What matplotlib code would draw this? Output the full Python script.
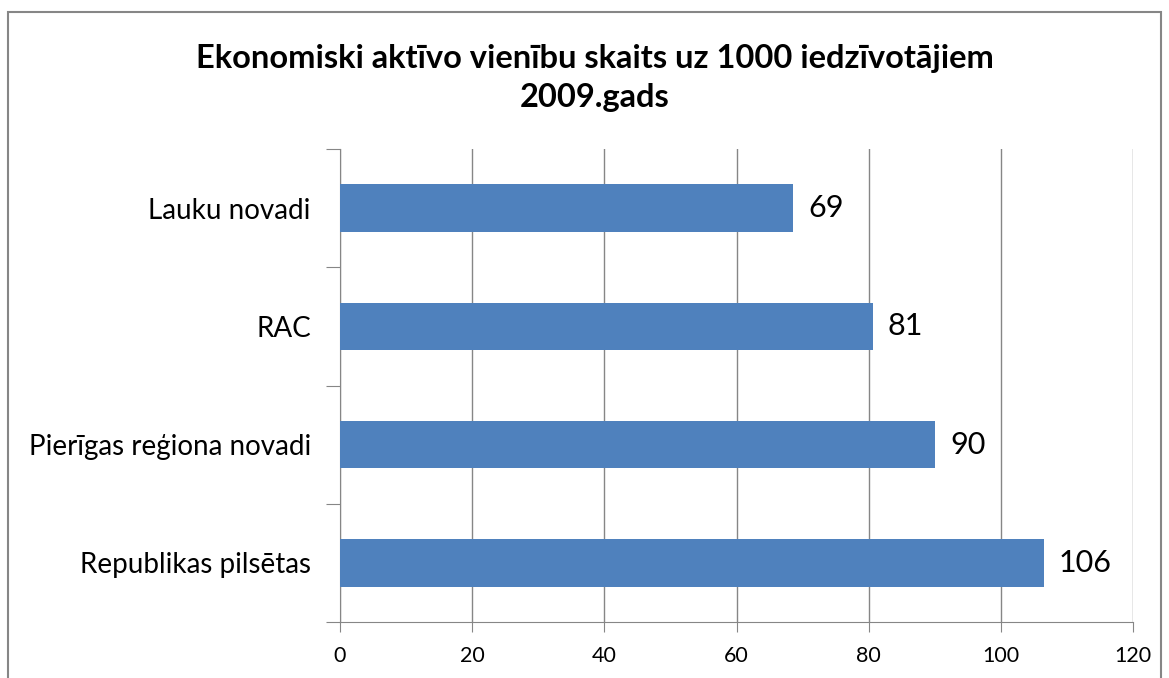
import matplotlib.pyplot as plt
import numpy as np

categories = ["Republikas pilsētas", "Pierīgas reģiona novadi", "RAC", "Lauku novadi"]
values = [106.5, 90.0, 80.6, 68.6]
xticks = [0, 20, 40, 60, 80, 100, 120]

plt.rcParams["font.family"] = ["Lato", "DejaVu Sans"]

fig = plt.figure(figsize=(11.69, 6.78), dpi=100)
W, H = 1169, 678
ax = fig.add_axes([340 / W, 1 - 622 / H, (1133 - 340) / W, (622 - 149) / H])

grid_col = "#868686"
y = np.arange(len(categories))
ax.barh(y, values, height=0.4, color="#4F81BD", zorder=3)

for yi, v in zip(y, values):
    ax.text(v + 2.3, yi, f"{v:.0f}", va="center", ha="left", fontsize=22, color="black")

ax.set_xlim(0, 120)
ax.set_ylim(-0.5, len(categories) - 0.5)
ax.set_xticks(xticks)
ax.set_xticklabels([str(t) for t in xticks], fontsize=15.5)
ax.xaxis.grid(True, color=grid_col, linewidth=1, zorder=0)

# category labels between boundary ticks
ax.set_yticks(np.arange(-0.5, len(categories), 1.0))
ax.set_yticklabels([])
ax.set_yticks(y, minor=True)
ax.set_yticklabels(categories, minor=True, fontsize=20)
ax.tick_params(axis="y", which="minor", length=0, pad=21)
ax.tick_params(axis="y", which="major", length=10, color=grid_col)
ax.tick_params(axis="x", length=7, color=grid_col, pad=10)

for s in ["top", "right"]:
    ax.spines[s].set_visible(False)
for s in ["left", "bottom"]:
    ax.spines[s].set_color(grid_col)

fig.text(595 / W, 1 - 78 / H, "Ekonomiski aktīvo vienību skaits uz 1000 iedzīvotājiem\n2009.gads",
         ha="center", va="center", fontsize=23.5, fontweight="bold", linespacing=1.4)

# outer chart border
fig.add_artist(plt.Rectangle((8 / W, -0.05), (1161 - 8) / W, 1 - 12 / H + 0.05,
                             transform=fig.transFigure, fill=False, edgecolor="#868686", linewidth=1.5))

fig.savefig("out.png", dpi=100)
